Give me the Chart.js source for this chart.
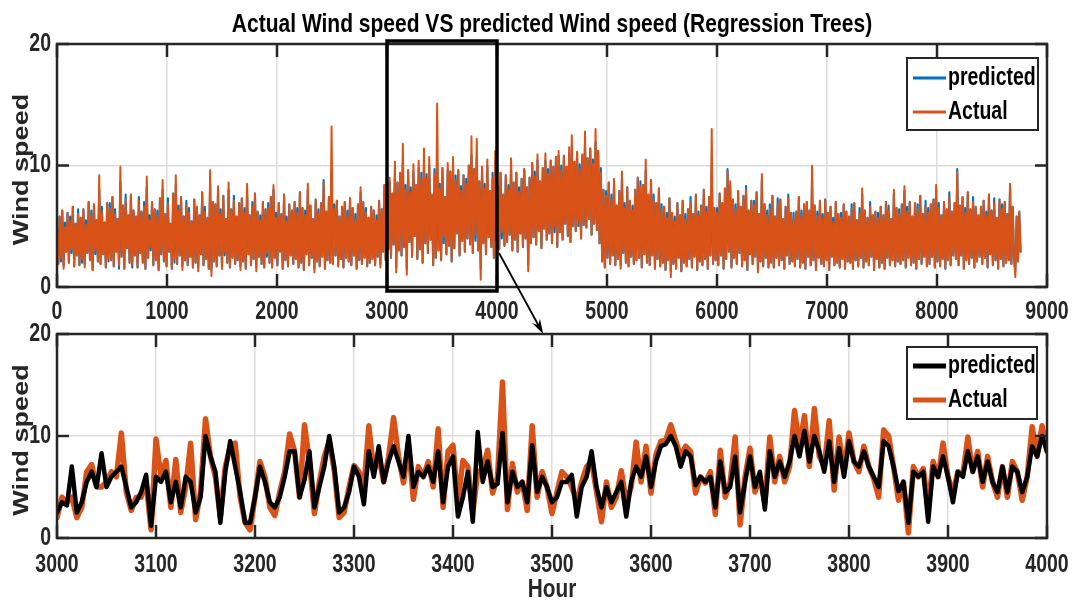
<!DOCTYPE html>
<html>
<head>
<meta charset="utf-8">
<title>Actual vs predicted wind speed</title>
<script src="https://cdn.jsdelivr.net/npm/chart.js@4.4.1/dist/chart.umd.min.js"></script>
<style>
    html, body { margin: 0; padding: 0; background: #fff; }
    #wrap { position: relative; width: 1072px; height: 601px; overflow: hidden; background: #fff; }
    #top-chart { position: absolute; left: 0; top: 0; }
    #zoom-chart { position: absolute; left: 0; top: 300px; }
</style>
</head>
<body>
<div id="wrap">
    <canvas id="top-chart" width="1072" height="345"></canvas>
    <canvas id="zoom-chart" width="1072" height="301"></canvas>
</div>
<script>
// Whole year, every 12 h (hour 0 ... 8760), one row = 240 h
const topStep = 12;
const topActual = [
    4.6,1.9,5.8,2.4,6.3,1.5,4.9,2.9,6.1,2.0,5.4,3.1,6.6,1.7,5.2,2.6,6.0,1.8,5.7,2.3,
    6.4,1.6,5.1,2.8,7.0,2.2,5.9,1.4,6.8,3.0,5.5,2.1,9.2,1.9,6.2,2.7,5.3,1.6,6.9,2.4,
    6.5,2.2,7.4,1.7,6.0,2.9,5.6,1.8,9.9,2.5,6.7,1.5,7.2,3.2,5.9,2.0,7.6,1.9,6.3,2.6,
    5.8,1.6,7.1,2.8,6.2,2.0,6.6,1.5,9.1,2.4,5.5,3.3,7.0,1.8,6.4,2.2,5.9,1.4,7.3,2.7,
    8.8,2.1,6.0,1.7,6.9,2.9,5.2,1.5,7.7,2.3,9.2,1.9,6.3,2.6,7.4,1.4,5.8,2.2,6.7,1.8,
    6.1,2.5,5.4,1.6,7.2,2.0,6.6,1.3,5.9,2.7,7.8,1.8,6.2,2.3,5.7,1.5,9.6,0.9,7.0,2.1,
    6.8,1.7,8.3,2.6,6.0,1.5,7.5,2.9,5.6,2.0,8.6,1.6,6.4,2.4,7.1,1.9,5.8,2.2,6.9,1.4,
    7.3,2.1,6.1,1.5,8.5,2.7,5.9,1.8,6.6,2.3,7.7,1.3,6.2,2.5,5.5,1.9,7.0,1.6,6.4,2.8,
    6.5,2.0,7.4,1.6,8.4,2.4,5.7,1.8,6.9,2.9,6.0,1.5,7.6,2.2,5.4,1.7,6.8,2.6,6.3,1.9,
    7.0,2.3,6.1,1.6,7.8,2.0,6.5,1.4,5.9,2.7,8.5,1.8,6.7,2.4,5.6,1.2,7.2,2.1,6.0,1.7,
    6.9,2.5,8.6,1.5,6.2,2.2,7.4,2.0,13.2,1.9,6.4,2.6,7.1,1.7,5.8,2.3,6.6,1.6,7.0,2.4,
    5.9,2.1,7.3,1.8,6.5,2.6,5.6,1.5,6.8,2.2,8.2,1.9,7.0,2.4,6.1,1.7,5.7,2.0,6.6,2.3,
    6.3,1.8,5.5,2.5,7.1,1.6,6.4,2.9,8.4,2.2,6.0,3.1,9.0,2.4,7.7,3.5,10.3,1.2,8.6,3.0,
    9.4,2.6,11.8,3.3,8.0,1.0,9.6,3.7,7.8,2.5,10.1,4.2,8.4,2.3,10.4,3.1,9.0,2.0,11.4,3.6,
    8.9,2.8,10.7,3.9,7.6,1.8,9.3,2.4,15.1,3.0,8.1,2.2,9.8,4.1,7.4,2.7,10.2,3.4,9.5,2.1,
    10.7,3.2,8.8,4.4,9.6,2.6,7.9,3.8,9.2,2.9,8.5,4.0,10.0,3.5,12.4,2.8,9.7,4.3,12.2,3.0,
    8.7,0.6,9.9,3.6,8.1,2.7,10.5,4.1,7.9,3.3,9.0,2.4,11.2,3.9,8.3,3.1,9.4,4.5,7.6,3.4,
    9.2,3.7,8.0,4.3,10.6,3.0,8.6,3.9,9.4,2.9,7.8,4.4,8.9,3.3,9.7,4.0,8.2,1.3,9.0,3.6,
    10.2,4.1,9.1,3.5,10.9,4.6,8.7,3.2,9.8,4.8,11.0,3.9,9.3,4.4,10.4,3.6,9.9,5.0,10.7,3.3,
    11.2,4.5,9.6,3.9,10.8,5.2,9.9,4.2,11.5,3.7,12.5,5.0,10.3,4.6,11.1,5.4,9.7,4.0,10.9,5.1,
    12.8,4.9,10.6,5.6,11.4,4.3,10.1,5.2,13.0,4.7,11.2,3.6,9.4,2.1,8.0,1.6,7.5,2.4,8.6,1.9,
    7.2,2.6,8.9,1.8,6.7,2.3,7.9,1.5,9.5,2.8,6.5,2.0,8.2,1.7,7.1,2.5,6.3,1.9,8.0,2.2,
    9.0,2.4,8.3,1.6,8.4,2.7,10.5,2.0,7.6,1.8,8.8,2.6,7.2,1.5,6.9,2.3,8.1,1.7,6.4,2.0,
    6.6,1.4,5.7,2.2,7.3,0.8,6.1,1.9,5.4,1.5,6.9,2.4,5.9,1.3,7.1,2.0,5.6,1.7,6.4,2.3,
    7.0,1.6,6.0,2.5,7.6,1.4,5.8,2.1,6.7,1.8,8.0,2.3,6.2,1.5,7.4,2.6,13.0,1.9,6.5,2.2,
    6.1,1.8,7.7,2.6,6.9,1.5,8.1,2.3,9.5,2.9,8.7,1.6,7.2,2.4,6.4,1.9,7.9,2.8,6.6,1.7,
    7.5,2.2,8.0,1.4,6.3,2.7,7.1,1.9,6.7,2.5,7.8,1.2,6.0,2.1,9.3,1.7,6.8,2.4,5.9,1.6,
    6.4,2.0,7.5,1.6,5.8,2.4,6.9,1.8,7.2,2.2,5.6,1.5,6.6,2.6,7.3,1.9,6.1,2.1,5.7,1.7,
    6.2,2.3,7.4,1.6,5.9,2.0,6.8,1.5,7.0,2.5,6.3,1.8,10.0,2.2,6.7,1.4,5.8,2.4,7.1,1.9,
    5.6,1.7,7.2,2.2,6.1,1.4,6.6,2.5,5.3,1.8,7.0,2.0,6.0,1.6,5.7,2.3,6.8,1.5,6.2,2.1,
    5.8,2.0,6.4,1.5,6.9,2.2,5.5,1.7,6.1,2.4,8.1,1.6,6.3,2.1,5.7,1.8,6.6,2.5,5.9,1.4,
    6.2,2.3,5.7,1.6,6.6,2.0,5.9,1.5,7.0,2.4,6.3,1.8,5.6,2.2,8.0,1.7,6.5,2.1,6.0,1.9,
    6.8,2.2,8.3,1.6,6.2,2.4,7.0,1.8,5.8,2.0,6.9,1.5,6.4,2.3,7.5,1.9,6.0,2.5,6.7,1.7,
    6.1,1.9,6.8,2.5,7.2,1.6,8.4,2.1,6.5,1.7,5.9,2.3,7.0,1.5,6.4,2.2,7.4,1.8,6.2,2.6,
    6.9,2.3,9.5,1.8,6.7,2.6,7.4,1.5,6.1,2.2,7.8,1.9,6.4,2.4,7.0,1.6,6.6,2.1,5.9,2.5,
    6.6,1.9,7.1,2.4,5.8,1.6,7.6,2.7,6.3,1.8,6.9,2.2,5.7,1.5,7.2,2.3,6.4,1.7,7.0,2.0,
    6.0,2.2,8.5,1.9,6.6,2.4,0.8,5.8,2.1,6.2,2.9
];
const topPredicted = [
    4.9,1.9,5.8,2.1,6.3,1.8,5.3,2.9,6.1,2.0,5.8,2.8,6.6,1.7,5.2,2.6,6.4,1.8,5.7,2.0,
    6.4,1.9,5.5,2.8,7.0,2.2,6.3,1.4,6.8,2.7,5.5,2.1,8.0,1.9,6.6,2.7,5.3,1.6,6.9,2.1,
    6.9,2.2,7.4,1.7,6.4,2.9,5.6,1.5,8.6,2.5,6.7,1.5,7.6,3.2,5.9,2.0,7.6,1.6,6.3,2.6,
    5.8,1.6,7.4,2.8,6.2,2.0,7.0,1.5,8.2,2.4,5.9,3.0,7.0,1.8,6.4,2.2,6.3,1.4,7.3,2.7,
    8.0,2.1,6.0,1.7,7.3,2.9,5.2,1.5,7.7,2.0,8.4,1.9,6.7,2.6,7.4,1.7,5.8,2.2,7.1,1.8,
    6.5,2.5,5.4,1.6,7.2,2.0,6.6,1.6,5.9,2.7,7.8,1.8,6.6,2.3,5.7,1.5,8.5,1.4,7.0,2.1,
    6.8,1.7,8.0,2.6,6.4,1.5,7.5,2.6,5.6,2.0,8.0,1.6,6.4,2.4,7.5,1.9,5.8,2.2,6.9,1.7,
    7.3,2.1,6.5,1.5,8.0,2.7,5.9,1.8,7.0,2.3,7.7,1.6,6.2,2.5,5.9,1.9,7.0,1.6,6.4,2.5,
    6.9,2.0,7.4,1.6,8.0,2.4,6.1,1.8,6.9,2.9,6.0,1.5,7.6,2.2,5.8,1.7,6.8,2.6,6.3,1.9,
    7.0,2.3,6.5,1.6,7.8,2.0,6.5,1.4,6.3,2.7,8.0,1.8,6.7,2.4,5.6,1.5,7.2,2.1,6.4,1.7,
    6.9,2.5,8.8,1.5,6.2,2.2,7.4,2.0,9.5,1.9,6.8,2.6,7.1,1.7,5.8,2.3,6.6,1.6,7.0,2.4,
    6.3,2.1,7.3,1.8,6.5,2.6,6.0,1.5,6.8,2.2,7.8,1.9,7.0,2.4,6.5,1.7,5.7,2.0,6.6,2.3,
    6.3,1.8,5.9,2.5,7.1,1.9,6.4,2.9,8.4,2.2,6.4,3.1,8.6,2.4,7.7,3.5,9.2,1.6,8.6,3.0,
    9.4,2.6,10.2,3.3,8.4,1.5,9.6,3.7,8.2,2.5,9.5,4.2,8.4,2.3,9.8,3.1,9.4,2.0,10.0,3.6,
    9.3,2.8,10.0,3.9,7.6,1.8,9.7,2.4,10.5,3.0,8.5,2.2,9.8,3.6,7.4,2.7,9.6,3.4,9.5,2.1,
    10.0,3.2,9.2,4.4,9.6,2.6,8.3,3.8,9.2,2.9,8.9,4.0,10.0,3.5,10.8,2.8,9.7,3.8,10.7,3.0,
    8.7,1.5,9.9,3.6,8.5,2.7,10.0,4.1,7.9,3.3,9.4,2.4,10.3,3.9,8.3,3.1,9.4,4.0,7.6,3.4,
    9.2,3.7,8.4,4.3,10.0,3.0,8.6,3.9,9.4,2.9,8.2,4.4,8.9,3.3,9.7,4.0,8.2,1.8,9.0,3.6,
    10.2,4.1,9.5,3.5,10.4,4.6,8.7,3.2,9.8,4.8,10.4,3.9,9.7,4.4,10.4,3.6,9.9,4.5,10.7,3.3,
    10.8,4.5,10.0,3.9,10.8,5.2,9.9,4.2,11.0,3.7,11.6,5.0,10.3,4.6,11.1,5.0,10.1,4.0,10.9,5.1,
    11.8,4.9,10.6,5.6,11.4,4.3,10.5,5.2,11.9,4.7,11.2,3.6,9.8,2.1,8.0,1.6,7.9,2.4,8.6,1.9,
    7.6,2.6,8.5,1.8,6.7,2.3,7.9,1.8,9.0,2.8,6.9,2.0,8.2,1.7,7.1,2.5,6.7,1.9,8.0,2.2,
    9.0,2.4,8.7,1.6,8.4,2.7,9.6,2.0,7.6,1.8,8.8,2.6,7.6,1.5,6.9,2.3,8.1,1.7,6.8,2.0,
    6.6,1.4,6.1,2.2,7.3,1.3,6.1,1.9,5.8,1.5,6.9,2.4,5.9,1.3,7.1,2.0,6.0,1.7,6.4,2.3,
    7.4,1.6,6.0,2.5,7.6,1.4,6.2,2.1,6.7,1.8,8.0,2.3,6.6,1.5,7.4,2.6,10.0,1.9,6.5,2.2,
    6.5,1.8,7.7,2.6,6.9,1.5,8.1,2.3,9.7,2.9,8.4,1.6,7.2,2.4,6.8,1.9,7.9,2.8,6.6,1.7,
    7.5,2.2,8.3,1.4,6.3,2.7,7.1,1.9,7.1,2.5,7.8,1.6,6.0,2.1,8.8,1.7,6.8,2.4,6.3,1.6,
    6.8,2.0,7.5,1.6,5.8,2.4,7.3,1.8,7.2,2.2,5.6,1.5,6.6,2.6,7.6,1.9,6.1,2.1,6.1,1.7,
    6.2,2.3,7.4,1.6,6.3,2.0,6.8,1.5,7.0,2.5,6.3,1.8,8.6,2.2,6.7,1.4,6.2,2.4,7.1,1.9,
    6.0,1.7,7.2,2.2,6.1,1.4,6.6,2.5,5.7,1.8,7.0,2.0,6.0,1.6,6.1,2.3,6.8,1.5,6.2,2.1,
    5.8,2.0,6.8,1.5,6.9,2.2,5.5,1.7,6.5,2.4,7.6,1.6,6.3,2.1,5.7,1.8,7.0,2.5,5.9,1.4,
    6.2,2.3,6.1,1.6,6.6,2.0,5.9,1.5,7.0,2.4,6.7,1.8,5.6,2.2,7.6,1.7,6.5,2.1,6.4,1.9,
    6.8,2.2,7.9,1.6,6.6,2.4,7.0,1.8,5.8,2.0,6.9,1.5,6.8,2.3,7.5,1.9,6.0,2.5,7.1,1.7,
    6.5,1.9,6.8,2.5,7.2,1.6,8.0,2.1,6.9,1.7,5.9,2.3,7.0,1.5,6.4,2.2,7.8,1.8,6.2,2.6,
    6.9,2.3,9.7,1.8,6.7,2.6,7.4,1.5,6.5,2.2,7.8,1.9,6.4,2.4,7.4,1.6,6.6,2.1,5.9,2.5,
    6.6,1.9,7.1,2.4,6.2,1.6,7.6,2.7,6.3,1.8,7.3,2.2,5.7,1.5,7.2,2.3,6.8,1.7,7.0,2.0,
    6.0,2.2,8.2,1.9,6.6,2.4,1.3,5.8,2.1,6.2,2.9
];

// Zoomed window 3000 ... 4000 h, read every 5 h
const zoomStart = 3000;
const zoomStep = 5;
const zoomActual = [
    2.0,4.0,3.5,4.0,2.0,3.0,6.5,7.2,5.0,5.0,
    5.5,6.5,6.0,10.3,4.5,2.7,4.0,4.0,5.5,0.8,
    9.7,6.0,7.6,3.0,7.7,2.5,5.0,9.3,1.8,4.5,
    11.7,8.0,6.0,2.0,7.0,9.0,9.3,4.0,1.5,0.8,
    4.0,7.5,6.0,3.0,2.2,4.5,6.5,10.2,8.5,4.0,
    11.1,7.5,2.4,5.5,8.0,9.5,6.7,2.0,2.5,5.0,
    7.1,6.5,5.0,11.0,6.5,8.0,5.5,8.0,11.8,8.0,
    5.4,9.2,3.8,7.0,6.0,7.5,5.0,10.7,3.0,8.5,
    9.1,3.5,7.6,7.0,2.5,6.5,6.7,8.6,4.4,6.0,
    15.3,2.8,7.3,4.5,5.5,2.7,11.0,4.0,6.5,5.0,
    2.4,4.5,6.5,6.0,5.0,3.5,5.5,7.0,7.5,4.5,
    1.6,5.5,3.0,4.0,6.6,3.5,5.0,9.4,5.5,9.0,
    4.4,8.2,9.5,9.6,11.1,9.5,8.0,9.0,8.5,4.4,
    6.0,5.4,6.5,2.3,8.6,4.0,5.5,9.9,1.3,6.0,
    8.8,4.5,6.0,3.4,9.9,5.5,8.0,5.5,7.0,12.5,
    9.0,12.0,7.0,12.7,8.0,7.0,11.5,4.7,9.9,6.5,
    10.3,7.5,6.5,9.0,7.0,5.8,4.0,10.6,10.0,7.0,
    3.7,5.5,0.5,7.0,6.0,6.8,3.0,7.5,6.0,9.3,
    6.0,4.4,6.5,6.2,9.9,6.5,8.5,5.0,8.0,5.5,
    4.0,7.0,4.0,7.5,6.5,3.7,6.0,10.9,8.0,11.0,
    8.5
];
const zoomPredicted = [
    2.5,3.5,3.2,7.0,2.5,3.5,5.5,6.5,5.0,8.3,
    5.0,6.0,6.5,7.0,5.0,3.0,3.5,4.5,6.2,1.2,
    6.0,5.5,6.5,3.5,5.5,3.0,6.0,5.5,2.5,4.0,
    10.0,8.0,6.5,1.5,6.5,9.5,7.0,4.5,1.5,1.5,
    4.0,7.0,5.5,3.5,3.0,4.0,6.0,8.5,8.5,4.0,
    5.7,8.5,3.0,5.0,7.0,10.0,7.0,2.5,3.0,4.5,
    7.0,6.0,3.3,8.5,6.0,9.0,5.5,7.5,9.0,7.5,
    6.0,10.0,5.0,6.5,6.0,7.0,5.5,8.5,3.5,7.0,
    8.0,2.1,4.0,6.5,1.6,10.4,5.5,7.5,5.0,5.3,
    10.3,3.5,6.5,5.0,5.5,3.5,9.1,4.5,6.0,5.0,
    3.5,4.0,5.5,5.5,6.2,2.1,5.0,6.0,8.5,5.0,
    3.0,5.0,3.5,4.5,5.5,2.1,5.5,7.0,6.0,8.0,
    5.0,7.5,9.0,9.2,10.0,9.0,7.0,8.5,8.0,5.2,
    6.0,5.5,6.0,3.0,7.5,4.5,5.0,8.0,2.5,5.5,
    8.0,5.0,6.5,2.8,8.5,6.0,7.5,6.0,7.5,10.0,
    8.0,10.5,7.5,10.0,8.5,6.5,9.5,5.5,8.8,6.0,
    9.5,7.5,7.0,8.5,7.0,6.0,5.0,9.5,9.0,7.0,
    4.6,5.5,1.5,6.5,6.0,6.5,1.6,7.0,6.0,8.0,
    6.0,3.5,6.5,6.0,8.5,6.5,8.0,5.5,7.5,5.5,
    4.5,7.0,4.5,7.0,6.5,4.5,6.0,9.0,8.0,10.0,
    8.5
];

const topXTicks = [0, 1000, 2000, 3000, 4000, 5000, 6000, 7000, 8000, 9000];
const zoomXTicks = [3000, 3100, 3200, 3300, 3400, 3500, 3600, 3700, 3800, 3900, 4000];
const yTicks = [0, 10, 20];
const seriesNames = ['predicted', 'Actual'];
const titleText = 'Actual Wind speed VS predicted Wind speed (Regression Trees)';
const yTitle = 'Wind speed';
const xTitle = 'Hour';

const AXIS = '#262626';
const BLUE = '#0072BD';
const ORANGE = '#D95319';

// the figure is squeezed sideways, so text is drawn narrower than tall
function drawText(ctx, str, x, y, size, align, squeeze, color) {
    ctx.save();
    ctx.translate(x, y);
    ctx.scale(squeeze, 1);
    ctx.font = 'bold ' + size + 'px "Liberation Sans", Arial, sans-serif';
    ctx.textAlign = align;
    ctx.textBaseline = 'middle';
    ctx.fillStyle = color || AXIS;
    ctx.fillText(str, 0, 0);
    ctx.restore();
}

function drawVerticalText(ctx, str, x, y, size, squeeze) {
    ctx.save();
    ctx.translate(x, y);
    ctx.rotate(-Math.PI / 2);
    ctx.scale(1, squeeze);
    ctx.font = 'bold ' + size + 'px "Liberation Sans", Arial, sans-serif';
    ctx.textAlign = 'center';
    ctx.textBaseline = 'middle';
    ctx.fillStyle = AXIS;
    ctx.fillText(str, 0, 0);
    ctx.restore();
}

// MATLAB-like box axes: inward ticks, frame, labels and a framed legend
function axesDecor(cfg) {
    return {
        id: 'axesDecor',
        afterDatasetsDraw(chart) {
            const ctx = chart.ctx;
            const a = chart.chartArea;
            const x = chart.scales.x;
            const y = chart.scales.y;
            ctx.save();

            ctx.strokeStyle = AXIS;
            ctx.lineWidth = 2.5;
            ctx.beginPath();
            x.ticks.forEach(t => {
                const px = x.getPixelForValue(t.value);
                ctx.moveTo(px, a.bottom); ctx.lineTo(px, a.bottom - 13);
                ctx.moveTo(px, a.top); ctx.lineTo(px, a.top + 13);
            });
            y.ticks.forEach(t => {
                const py = y.getPixelForValue(t.value);
                ctx.moveTo(a.left, py); ctx.lineTo(a.left + 12, py);
                ctx.moveTo(a.right, py); ctx.lineTo(a.right - 12, py);
            });
            ctx.stroke();
            ctx.strokeRect(a.left, a.top, a.right - a.left, a.bottom - a.top);

            x.ticks.forEach(t => {
                drawText(ctx, String(t.value), x.getPixelForValue(t.value), a.bottom + cfg.xLabelGap, 25, 'center', 0.78);
            });
            y.ticks.forEach(t => {
                drawText(ctx, String(t.value), a.left - 6, y.getPixelForValue(t.value), 25, 'right', 0.78);
            });
            drawVerticalText(ctx, yTitle, 22, (a.top + a.bottom) / 2 + 4, 27, 0.8);
            if (cfg.xTitle) {
                drawText(ctx, cfg.xTitle, (a.left + a.right) / 2, a.bottom + cfg.xTitleGap, 26, 'center', 0.8);
            }
            if (cfg.title) {
                drawText(ctx, cfg.title, (a.left + a.right) / 2, 25, 25, 'center', 0.84, '#000');
            }

            // legend
            const L = cfg.legend;
            ctx.fillStyle = '#fff';
            ctx.fillRect(L.x, L.y, L.w, L.h);
            ctx.lineWidth = 2;
            ctx.strokeStyle = AXIS;
            ctx.strokeRect(L.x, L.y, L.w, L.h);
            chart.data.datasets.forEach((ds, i) => {
                const cy = L.y + L.first + i * L.gap;
                ctx.beginPath();
                ctx.strokeStyle = ds.borderColor;
                ctx.lineWidth = L.lineWidth;
                ctx.moveTo(L.x + 6, cy);
                ctx.lineTo(L.x + 39, cy);
                ctx.stroke();
                drawText(ctx, ds.label, L.x + 41, cy, 25, 'left', 0.78, '#000');
            });

            if (cfg.highlight) {
                const h = cfg.highlight;
                const x0 = x.getPixelForValue(h.from);
                const x1 = x.getPixelForValue(h.to);
                ctx.strokeStyle = '#000';
                ctx.lineWidth = 3.5;
                ctx.strokeRect(x0, a.top - 3, x1 - x0, a.bottom - a.top + 7);

                // arrow pointing down to the zoomed panel
                const sx = x1 + 2, sy = y.getPixelForValue(2.8);
                const ex = x.getPixelForValue(4420), ey = a.bottom + 47;
                const ang = Math.atan2(ey - sy, ex - sx);
                ctx.lineWidth = 1.8;
                ctx.beginPath();
                ctx.moveTo(sx, sy);
                ctx.lineTo(ex - 8 * Math.cos(ang), ey - 8 * Math.sin(ang));
                ctx.stroke();
                ctx.beginPath();
                ctx.moveTo(ex, ey);
                ctx.lineTo(ex - 15 * Math.cos(ang) + 4.5 * Math.sin(ang), ey - 15 * Math.sin(ang) - 4.5 * Math.cos(ang));
                ctx.lineTo(ex - 10 * Math.cos(ang), ey - 10 * Math.sin(ang));
                ctx.lineTo(ex - 15 * Math.cos(ang) - 4.5 * Math.sin(ang), ey - 15 * Math.sin(ang) + 4.5 * Math.cos(ang));
                ctx.closePath();
                ctx.fillStyle = '#000';
                ctx.fill();
            }
            ctx.restore();
        }
    };
}

function toPoints(values, start, step) {
    return values.map((v, i) => ({ x: start + i * step, y: v }));
}

function makeChart(canvasId, opts) {
    const ctx = document.getElementById(canvasId).getContext('2d');
    const gridStyle = { color: '#dcdcdc', lineWidth: 1.5, drawTicks: false };
    return new Chart(ctx, {
        type: 'line',
        data: {
            datasets: [{
                label: seriesNames[0],
                data: toPoints(opts.predicted, opts.start, opts.step),
                borderColor: opts.predColor,
                borderWidth: opts.predWidth,
                order: opts.predOrder
            }, {
                label: seriesNames[1],
                data: toPoints(opts.actual, opts.start, opts.step),
                borderColor: ORANGE,
                borderWidth: opts.actWidth,
                order: opts.actOrder
            }]
        },
        options: {
            responsive: false,
            animation: false,
            events: [],
            parsing: false,
            elements: {
                point: { radius: 0 },
                line: { tension: 0, borderJoinStyle: 'round', borderCapStyle: 'round', fill: false }
            },
            layout: { padding: { top: opts.padTop, right: 25, left: 0, bottom: 0 } },
            plugins: {
                legend: { display: false },
                title: { display: false },
                tooltip: { enabled: false }
            },
            scales: {
                x: {
                    type: 'linear',
                    min: opts.xMin,
                    max: opts.xMax,
                    afterBuildTicks: s => { s.ticks = opts.xTicks.map(v => ({ value: v })); },
                    afterFit: s => { s.height = opts.xAxisHeight; },
                    ticks: { display: false },
                    grid: gridStyle,
                    border: { display: false }
                },
                y: {
                    type: 'linear',
                    min: 0,
                    max: 20,
                    afterBuildTicks: s => { s.ticks = yTicks.map(v => ({ value: v })); },
                    afterFit: s => { s.width = 57; },
                    ticks: { display: false },
                    grid: gridStyle,
                    border: { display: false }
                }
            }
        },
        plugins: [axesDecor(opts.decor)]
    });
}

// Top panel: whole year
makeChart('top-chart', {
    predicted: topPredicted, actual: topActual, start: 0, step: topStep,
    predColor: BLUE, predWidth: 2.1, actWidth: 2, predOrder: 1, actOrder: 0,
    xMin: 0, xMax: 9000, xTicks: topXTicks, padTop: 44, xAxisHeight: 58,
    decor: {
        xLabelGap: 25,
        title: titleText,
        legend: { x: 907, y: 58, w: 131, h: 72, first: 20, gap: 34, lineWidth: 3 },
        highlight: { from: 3000, to: 4000 }
    }
});

// Bottom panel: zoom on 3000-4000 h
makeChart('zoom-chart', {
    predicted: zoomPredicted, actual: zoomActual, start: zoomStart, step: zoomStep,
    predColor: '#000', predWidth: 4.5, actWidth: 5.5, predOrder: 0, actOrder: 1,
    xMin: 3000, xMax: 4000, xTicks: zoomXTicks, padTop: 34, xAxisHeight: 63,
    decor: {
        xLabelGap: 27,
        xTitle: xTitle,
        xTitleGap: 52,
        legend: { x: 907, y: 47, w: 130, h: 72, first: 19, gap: 34, lineWidth: 5 }
    }
});
</script>
</body>
</html>
